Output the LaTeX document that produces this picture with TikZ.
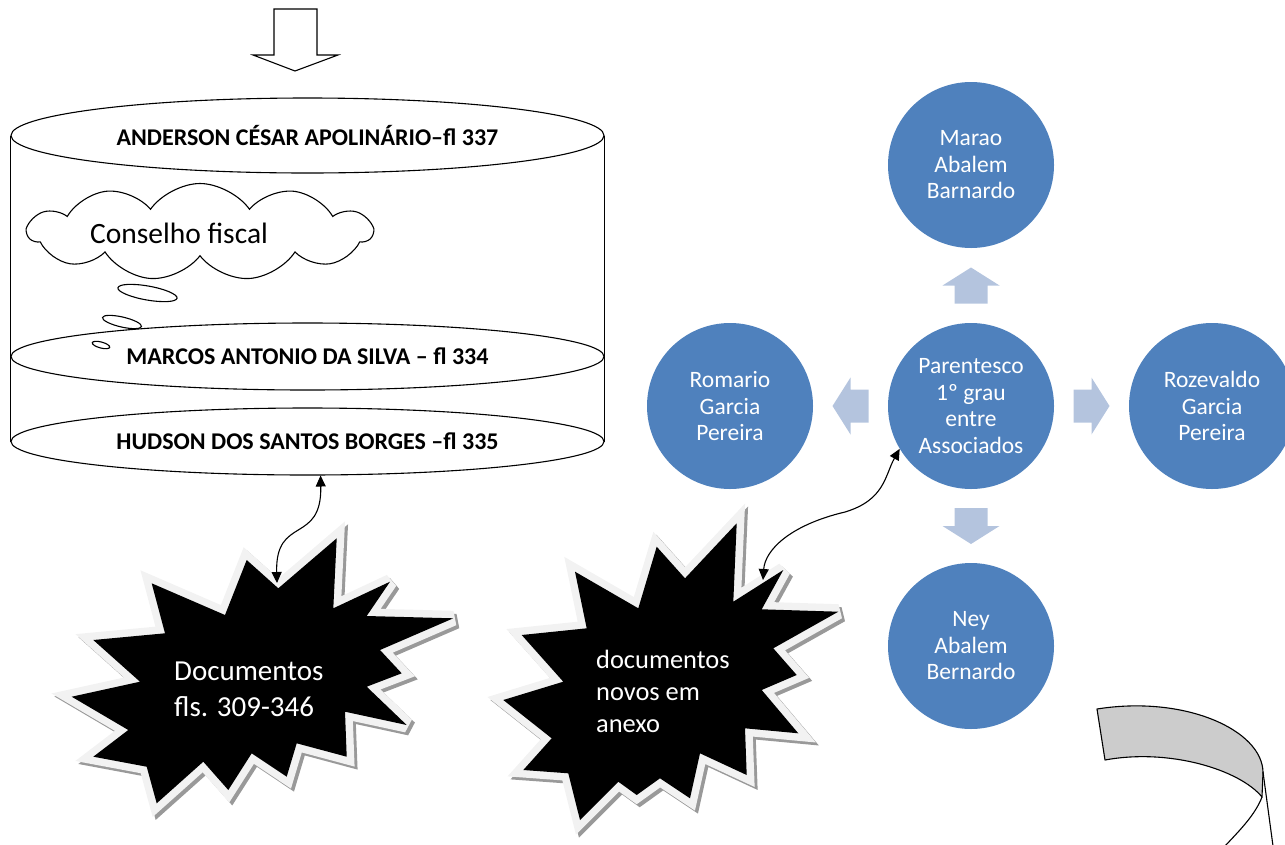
\documentclass[tikz,border=0pt]{standalone}
\usepackage{fontspec}
\setmainfont{Carlito}
\usetikzlibrary{shapes.geometric,shapes.symbols,arrows.meta,calc}

\definecolor{circblue}{HTML}{4F81BD}
\definecolor{arrowblue}{RGB}{180,196,222}
\definecolor{ribbongray}{HTML}{CCCCCC}

\tikzset{
  stack/.style={ellipse, draw, line width=1.1pt, fill=white, minimum width=593pt,
    minimum height=67pt, inner sep=0pt, font=\fontsize{24}{28}\selectfont\bfseries},
  person/.style={circle, fill=circblue, minimum size=166pt, inner sep=0pt, text=white,
    align=center, font=\fontsize{23.5}{26.5}\selectfont},
  link/.style={line width=1.1pt, {Triangle[length=11pt,width=10pt]}-{Triangle[length=11pt,width=10pt]}},
  bubble/.style={line width=1.1pt, fill=white},
  burstrim/.style={draw=black!5, line width=15pt, line join=miter, miter limit=3},
  burstshade/.style={draw=black!40, line width=15pt, line join=miter, miter limit=3},
  bursttext/.style={text=white, align=left, inner sep=0pt},
  blockarr/.pic={\fill[arrowblue] (-18,-16.5) -- (0,-16.5) -- (0,-28.5) -- (18,0)
    -- (0,28.5) -- (0,16.5) -- (-18,16.5) -- cycle;},
  burstA/.style={insert path={(246.7,560) -- (278.3,588.3) -- (336.7,538.3) -- (333.3,608.3)
    -- (390,581.7) -- (366.7,616) -- (453.3,618.3) -- (380,650) -- (401.7,673.3)
    -- (366.7,686.7) -- (406.7,725) -- (345,711.7) -- (346.7,756.7) -- (296.7,743.3)
    -- (286.7,776.7) -- (251.7,753.3) -- (228.3,790) -- (203.3,761.7) -- (156.7,803.3)
    -- (146.7,766.7) -- (93.3,756.7) -- (128.3,730) -- (71.7,696.7) -- (140,681.7)
    -- (93.3,640) -- (165,633.3) -- (151.7,583.3) -- (225,615) -- cycle}},
  burstB/.style={insert path={(736.7,523.3) -- (733.3,601.7) -- (783.3,570) -- (761.7,609.3)
    -- (838.3,611.7) -- (773.3,648.3) -- (796.7,675) -- (761.7,690) -- (798.3,733.3)
    -- (745,728.3) -- (746.7,775) -- (700,753.3) -- (690,798.3) -- (660,778.3)
    -- (636.7,795) -- (618.3,781.7) -- (580,820) -- (568.3,773.3) -- (523.3,770)
    -- (551.7,738.3) -- (503.3,700) -- (563.3,681.7) -- (521.7,635) -- (586.7,628.3)
    -- (575,571.7) -- (638.3,608.3) -- (656.7,546.7) -- (685,578.3) -- cycle}}
}

\begin{document}
\begin{tikzpicture}[x=1pt,y=-1pt]
  \useasboundingbox (0,0) rectangle (1285,844);

  % arrow into the stack
  \filldraw[fill=white, line width=1.1pt] (274,9) -- (317,9) -- (317,55) -- (338,55)
    -- (295,71) -- (253,55) -- (274,55) -- cycle;

  % stack of names
  \node[stack, minimum height=75pt] (anderson) at (307.5,135.5) {ANDERSON CÉSAR APOLINÁRIO–fl 337};
  \node[stack] (marcos) at (307.5,356.5) {MARCOS ANTONIO DA SILVA – fl 334};
  \node[stack] (hudson) at (307.5,441.5) {HUDSON DOS SANTOS BORGES –fl 335};
  \draw[line width=1.1pt] (anderson.west) -- (hudson.west) (anderson.east) -- (hudson.east);

  % thought cloud
  \node[cloud, draw, line width=1.1pt, fill=white, cloud puffs=11, cloud puff arc=110,
    aspect=3.6, minimum width=344pt, minimum height=97pt] (cloud) at (200,232) {};
  \node[anchor=base west, inner sep=0pt, font=\fontsize{29.5}{34}\selectfont] (fiscal)
    at (90,243) {Conselho fiscal};
  \draw[bubble, rotate around={-10:(147.5,293)}] (147.5,293) ellipse (30 and 7);
  \draw[bubble, rotate around={-13:(122,322)}] (122,322) ellipse (20 and 5);
  \draw[bubble, rotate around={-15:(101,345)}] (101,345) ellipse (9 and 3);

  % bursts
  \draw[burstshade, shift={(3,3)}, burstA];
  \draw[burstrim, burstA];
  \fill[black, burstA];
  \node[bursttext, anchor=base west, font=\fontsize{29}{36.7}\selectfont] (docsA)
    at (174,716.7) {Documentos\\fls. 309-346};
  \coordinate (burstAin) at (277,583);

  \draw[burstshade, shift={(3,3)}, burstB];
  \draw[burstrim, burstB];
  \fill[black, burstB];
  \node[bursttext, anchor=base west, font=\fontsize{26.4}{32}\selectfont] (docsB)
    at (596,732.3) {documentos\\novos em\\anexo};
  \coordinate (burstBin) at (763,580);

  % relatives
  \node[person] (parentesco) at (971,406) {Parentesco\\1º grau\\entre\\Associados};
  \node[person] (marao) at (971,165) {Marao\\Abalem\\Barnardo};
  \node[person] (romario) at (730,406) {Romario\\Garcia\\Pereira};
  \node[person] (rozevaldo) at (1212,406) {Rozevaldo\\Garcia\\Pereira};
  \node[person] (ney) at (971,646) {Ney\\Abalem\\Bernardo};
  \pic[rotate=90] at ($(parentesco)!0.5!(marao)$) {blockarr};
  \pic[rotate=180] at ($(parentesco)!0.5!(romario)$) {blockarr};
  \pic at ($(parentesco)!0.5!(rozevaldo)$) {blockarr};
  \pic[rotate=-90] at ($(parentesco)!0.5!(ney)$) {blockarr};

  \draw[link] (hudson.-69.5) .. controls (322,545) and (275,515) .. (burstAin);
  \draw[link] (parentesco.211) .. controls (885,475) and (885,500) .. (845,512)
    .. controls (790,525) and (765,550) .. (burstBin);

  % ribbon
  \filldraw[fill=ribbongray, line width=1.1pt, line join=round] (1097,709)
    .. controls (1185,695) and (1262,730) .. (1263,772) -- (1262,797)
    .. controls (1240,770) and (1170,748) .. (1105,760) -- cycle;
  \draw[line width=1.1pt] (1263,772) -- (1273,846);
  \draw[line width=1.1pt] (1262,797) .. controls (1255,815) and (1240,830) .. (1225,846);
\end{tikzpicture}
\end{document}
